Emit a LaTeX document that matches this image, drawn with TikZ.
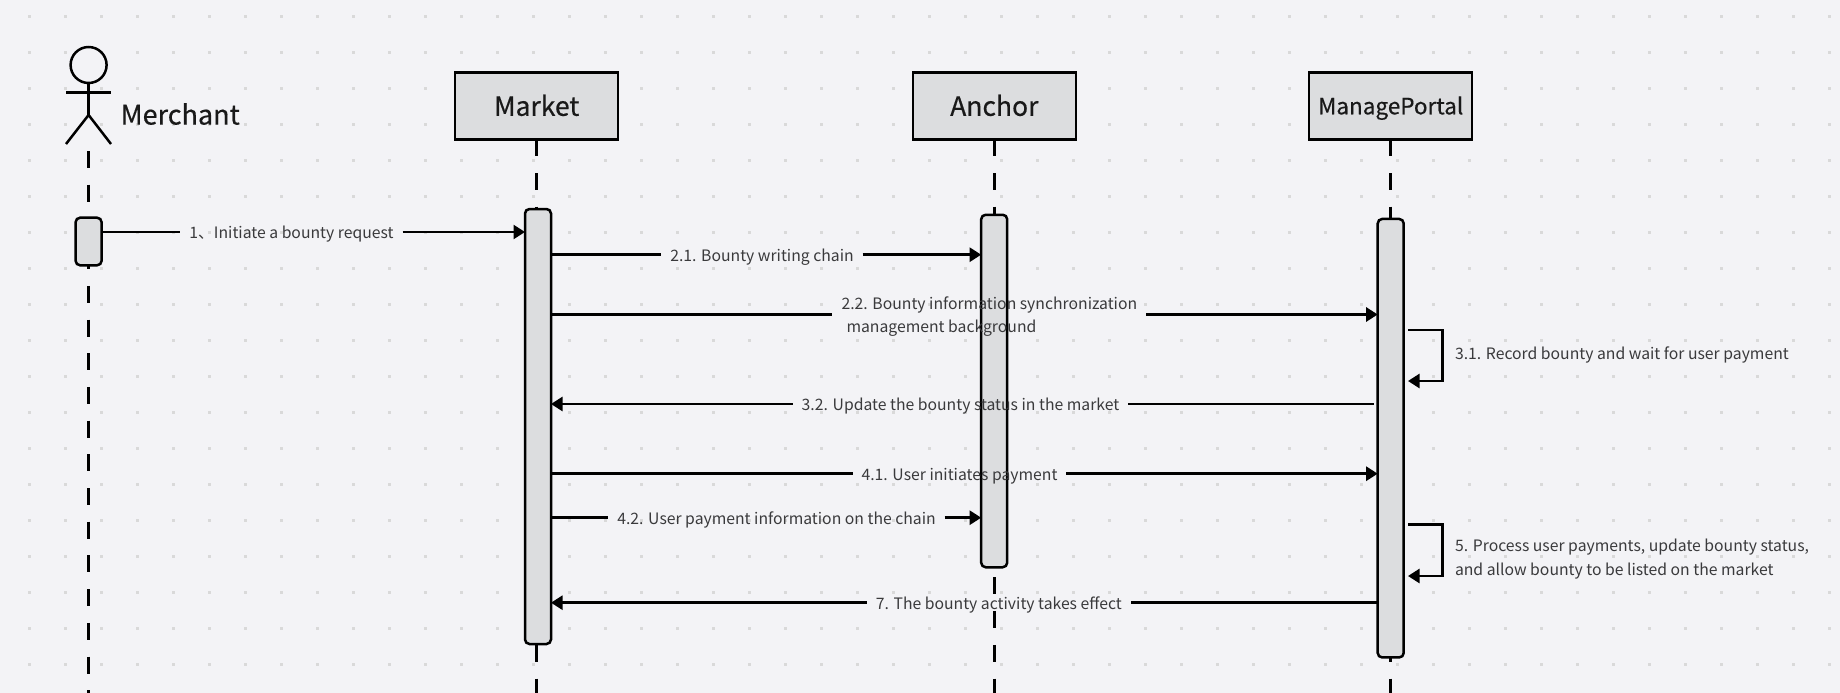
\documentclass[tikz,border=0pt]{standalone}
\usepackage{fontspec}
\setmainfont{Noto Sans CJK SC}
\newfontfamily\hfont[FakeBold=0.45]{Noto Sans CJK SC}
\usetikzlibrary{arrows.meta,calc}
\definecolor{bgc}{HTML}{F3F3F6}
\definecolor{dotc}{HTML}{D9D9D9}
\definecolor{boxc}{HTML}{DCDDDF}
\definecolor{txtc}{HTML}{3A3A3C}
\tikzset{
  lw/.style={line width=2.5pt,black},
  head/.style={lw,draw,fill=boxc,minimum width=163pt,minimum height=67pt,inner sep=0pt,outer sep=0pt,text=black!90,text height=25pt,text depth=5pt,font=\hfont\fontsize{26.5}{32}\selectfont},
  bar/.style={lw,draw,fill=boxc,rounded corners=4.5pt,minimum width=26pt,inner sep=0pt,outer sep=0pt},
  life/.style={lw,dash pattern=on 17pt off 16.7pt},
  msgbase/.style={text=txtc,inner xsep=9pt,inner ysep=0pt,outer sep=0pt,font=\fontsize{15.75}{23.5}\selectfont,align=left},
  msg/.style={msgbase,text height=16pt,text depth=3.4pt},
  arr/.style={lw,-{Triangle[length=11.5pt,width=14pt]}},
  plain/.style={lw}
}
\begin{document}
\begin{tikzpicture}[x=1pt,y=-1pt]
\useasboundingbox (0,0) rectangle (1840,693);
\fill[bgc] (0,0) rectangle (1840,693);
\foreach \i in {0,...,50}{\foreach \j in {0,...,19}{
  \fill[dotc] ({29.6+36*\i-1.3},{16.3+36*\j-1.3}) rectangle +(2.6,2.6);}}
% heads
\node[head] (market) at (536.7,105.8) {Market};
\node[head] (anchor) at (994.3,105.8) {Anchor};
\node[head,text height=22pt,font=\hfont\fontsize{22.5}{28}\selectfont] (portal) at (1390.7,105.8) {ManagePortal};
% actor
\draw[lw] (88.6,65) circle (18pt);
\coordinate (hip) at (88.6,115);
\coordinate (neck) at (88.6,83);
\draw[lw] (neck) -- (hip);
\draw[lw] (66,92.3) -- (111,92.3);
\draw[lw] (66,144) -- (hip) -- (111,144);
\node[anchor=west,inner sep=0pt,text=black!90,font=\hfont\fontsize{27}{32}\selectfont] (merchant) at (120.5,114) {Merchant};
\coordinate (mtop) at (88.6,151);
\coordinate (bot) at (0,693);
% lifelines
\draw[life] (mtop) -- (mtop |- bot);
\draw[life] (market.south) -- (market.south |- bot);
\draw[life] (anchor.south) -- (anchor.south |- bot);
\draw[life] (portal.south) -- (portal.south |- bot);
% bars
\node[bar,minimum height=47.6pt] (bm) at (88.6,241.5) {};
\node[bar,minimum height=435pt] (bk) at (538,426.5) {};
\node[bar,minimum height=352.5pt] (ba) at (994.2,391) {};
\node[bar,minimum height=438.5pt] (bp) at (1390.7,438.2) {};
% labels
\node[msg] (l1) at (291.5,232) {1、Initiate a bounty request};
\node[msg] (l21) at (762,254.7) {2.1. Bounty writing chain};
\node[msgbase,anchor=west,inner xsep=0pt] (l22) at (841.5,316.4) {2.2. Bounty information synchronization\\\hspace*{5pt}management background};
\coordinate (l22a) at (832,314.5);
\coordinate (l22b) at (1146,314.5);
\node[msg] (l32) at (960.5,404) {3.2. Update the bounty status in the market};
\node[msg] (l41) at (959.5,473.7) {4.1. User initiates payment};
\node[msg] (l42) at (776.5,517.7) {4.2. User payment information on the chain};
\node[msg] (l7) at (998.8,602.7) {7. The bounty activity takes effect};
\node[msgbase,anchor=west,inner xsep=0pt] (l31) at (1455,354.7) {3.1. Record bounty and wait for user payment};
\node[msgbase,anchor=west,inner xsep=0pt] (l5) at (1455,559) {5. Process user payments, update bounty status,\\and allow bounty to be listed on the market};
% connectors
\draw[plain] (bm.east |- l1) -- (l1.west);
\draw[arr] (l1.east) -- (bk.west |- l1);
\draw[plain] (bk.east |- l21) -- (l21.west);
\draw[arr] (l21.east) -- (ba.west |- l21);
\draw[plain] (bk.east |- l22a) -- (l22a);
\draw[arr] (l22b) -- (bp.west |- l22b);
\coordinate (p32) at (1373.7,404);
\draw[plain] (p32) -- (l32.east);
\draw[arr] (l32.west) -- (bk.east |- l32);
\draw[plain] (bk.east |- l41) -- (l41.west);
\draw[arr] (l41.east) -- (bp.west |- l41);
\draw[plain] (bk.east |- l42) -- (l42.west);
\draw[arr] (l42.east) -- (ba.west |- l42);
\draw[plain] (bp.west |- l7) -- (l7.east);
\draw[arr] (l7.west) -- (bk.east |- l7);
\coordinate (s31) at (1408,330);
\coordinate (e31) at (1408,381);
\draw[arr,line join=miter] (s31) -- (1442.6,330) -- (1442.6,381) -- (e31);
\coordinate (s5) at (1408,524.6);
\coordinate (e5) at (1408,576);
\draw[arr,line join=miter] (s5) -- (1442.6,524.6) -- (1442.6,576) -- (e5);
\end{tikzpicture}
\end{document}
